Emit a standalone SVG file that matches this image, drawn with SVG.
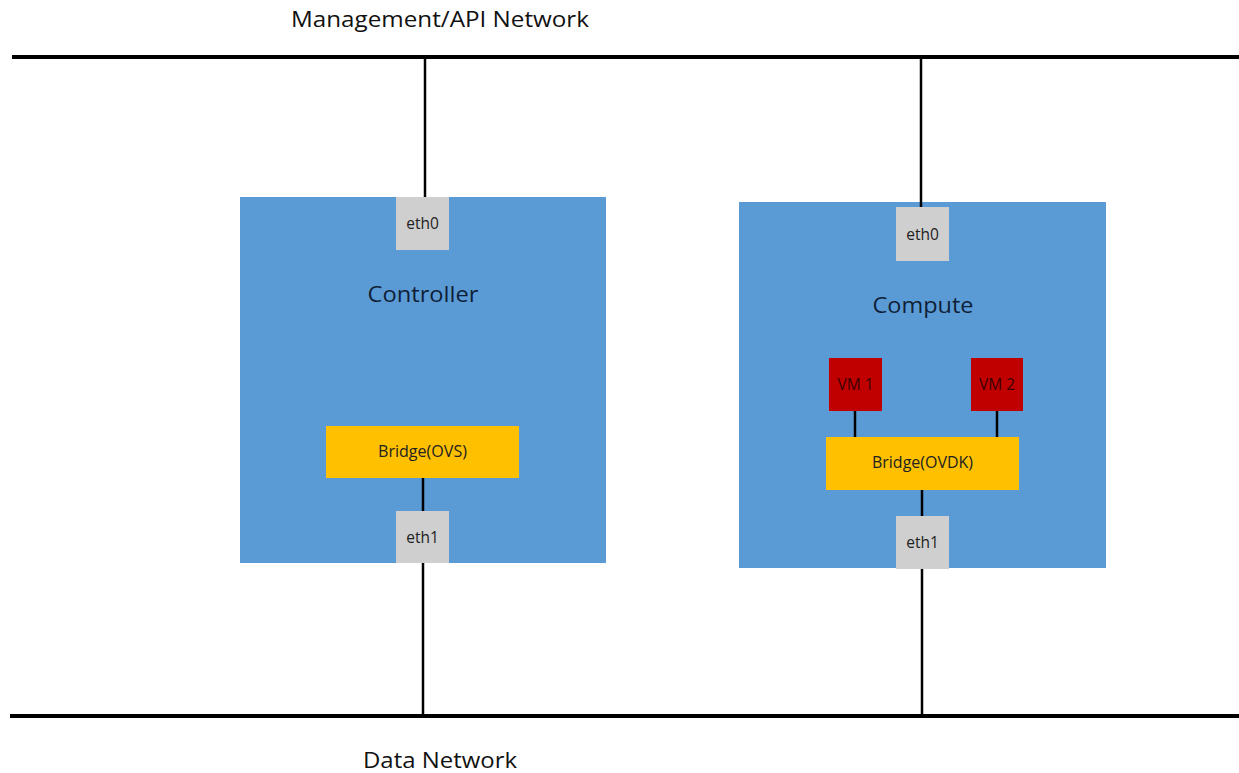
<svg xmlns="http://www.w3.org/2000/svg" width="1239" height="773" viewBox="0 0 1239 773">
<style>
.host{fill:#5B9BD5}
.port{fill:#CFCFCF}
.br{fill:#FFC000}
.vm{fill:#C00000}
.wire{stroke:#000;stroke-width:2.5;fill:none}
.net{stroke:#000;stroke-width:4;fill:none}
text{font-family:"Open Sans","Liberation Sans",sans-serif;text-anchor:middle}
.lbl{font-size:21px;fill:#111}
.host-t{font-size:21px;fill:#0F1F38}
.small{font-size:15.5px;fill:#222}
.vmt{font-size:15.5px;fill:#3A0000}
</style>
<rect width="1239" height="773" fill="#fff"/>
<g id="networks">
<line class="net" x1="12" y1="57" x2="1239" y2="57"/>
<line class="net" x1="10" y1="716" x2="1239" y2="716"/>
<text class="lbl" x="440" y="27" textLength="298" lengthAdjust="spacingAndGlyphs">Management/API Network</text>
<text class="lbl" x="440" y="768" textLength="154" lengthAdjust="spacingAndGlyphs">Data Network</text>
</g>
<g id="controller">
<rect class="host" x="240" y="197" width="366" height="366"/>
<text class="host-t" x="423" y="302" textLength="111" lengthAdjust="spacingAndGlyphs">Controller</text>
</g>
<g id="compute">
<rect class="host" x="739" y="202" width="367" height="366"/>
<text class="host-t" x="923" y="313" textLength="101" lengthAdjust="spacingAndGlyphs">Compute</text>
</g>
<g id="connectors">
<line class="wire" x1="425" y1="57" x2="425" y2="198"/>
<line class="wire" x1="423" y1="478" x2="423" y2="512"/>
<line class="wire" x1="423" y1="562" x2="423" y2="716"/>
<line class="wire" x1="921" y1="57" x2="921" y2="208"/>
<line class="wire" x1="855" y1="410" x2="855" y2="438"/>
<line class="wire" x1="997" y1="410" x2="997" y2="438"/>
<line class="wire" x1="922" y1="489" x2="922" y2="517"/>
<line class="wire" x1="922" y1="568" x2="922" y2="716"/>
</g>
<g id="ctrl-eth0">
<rect class="port" x="396" y="197" width="53" height="53"/>
<text class="small" x="422.5" y="229">eth0</text>
</g>
<g id="ctrl-bridge">
<rect class="br" x="326" y="426" width="193" height="52"/>
<text class="small" x="422.5" y="457" textLength="89" lengthAdjust="spacingAndGlyphs">Bridge(OVS)</text>
</g>
<g id="ctrl-eth1">
<rect class="port" x="396" y="511" width="53" height="52"/>
<text class="small" x="422.5" y="543">eth1</text>
</g>
<g id="comp-eth0">
<rect class="port" x="896" y="207" width="53" height="54"/>
<text class="small" x="922.5" y="240">eth0</text>
</g>
<g id="vm1">
<rect class="vm" x="829" y="358" width="53" height="53"/>
<text class="vmt" x="855.5" y="390">VM 1</text>
</g>
<g id="vm2">
<rect class="vm" x="971" y="358" width="52" height="53"/>
<text class="vmt" x="997" y="390">VM 2</text>
</g>
<g id="comp-bridge">
<rect class="br" x="826" y="437" width="193" height="53"/>
<text class="small" x="922.5" y="468" textLength="101" lengthAdjust="spacingAndGlyphs">Bridge(OVDK)</text>
</g>
<g id="comp-eth1">
<rect class="port" x="896" y="516" width="53" height="53"/>
<text class="small" x="922.5" y="548">eth1</text>
</g>
</svg>
